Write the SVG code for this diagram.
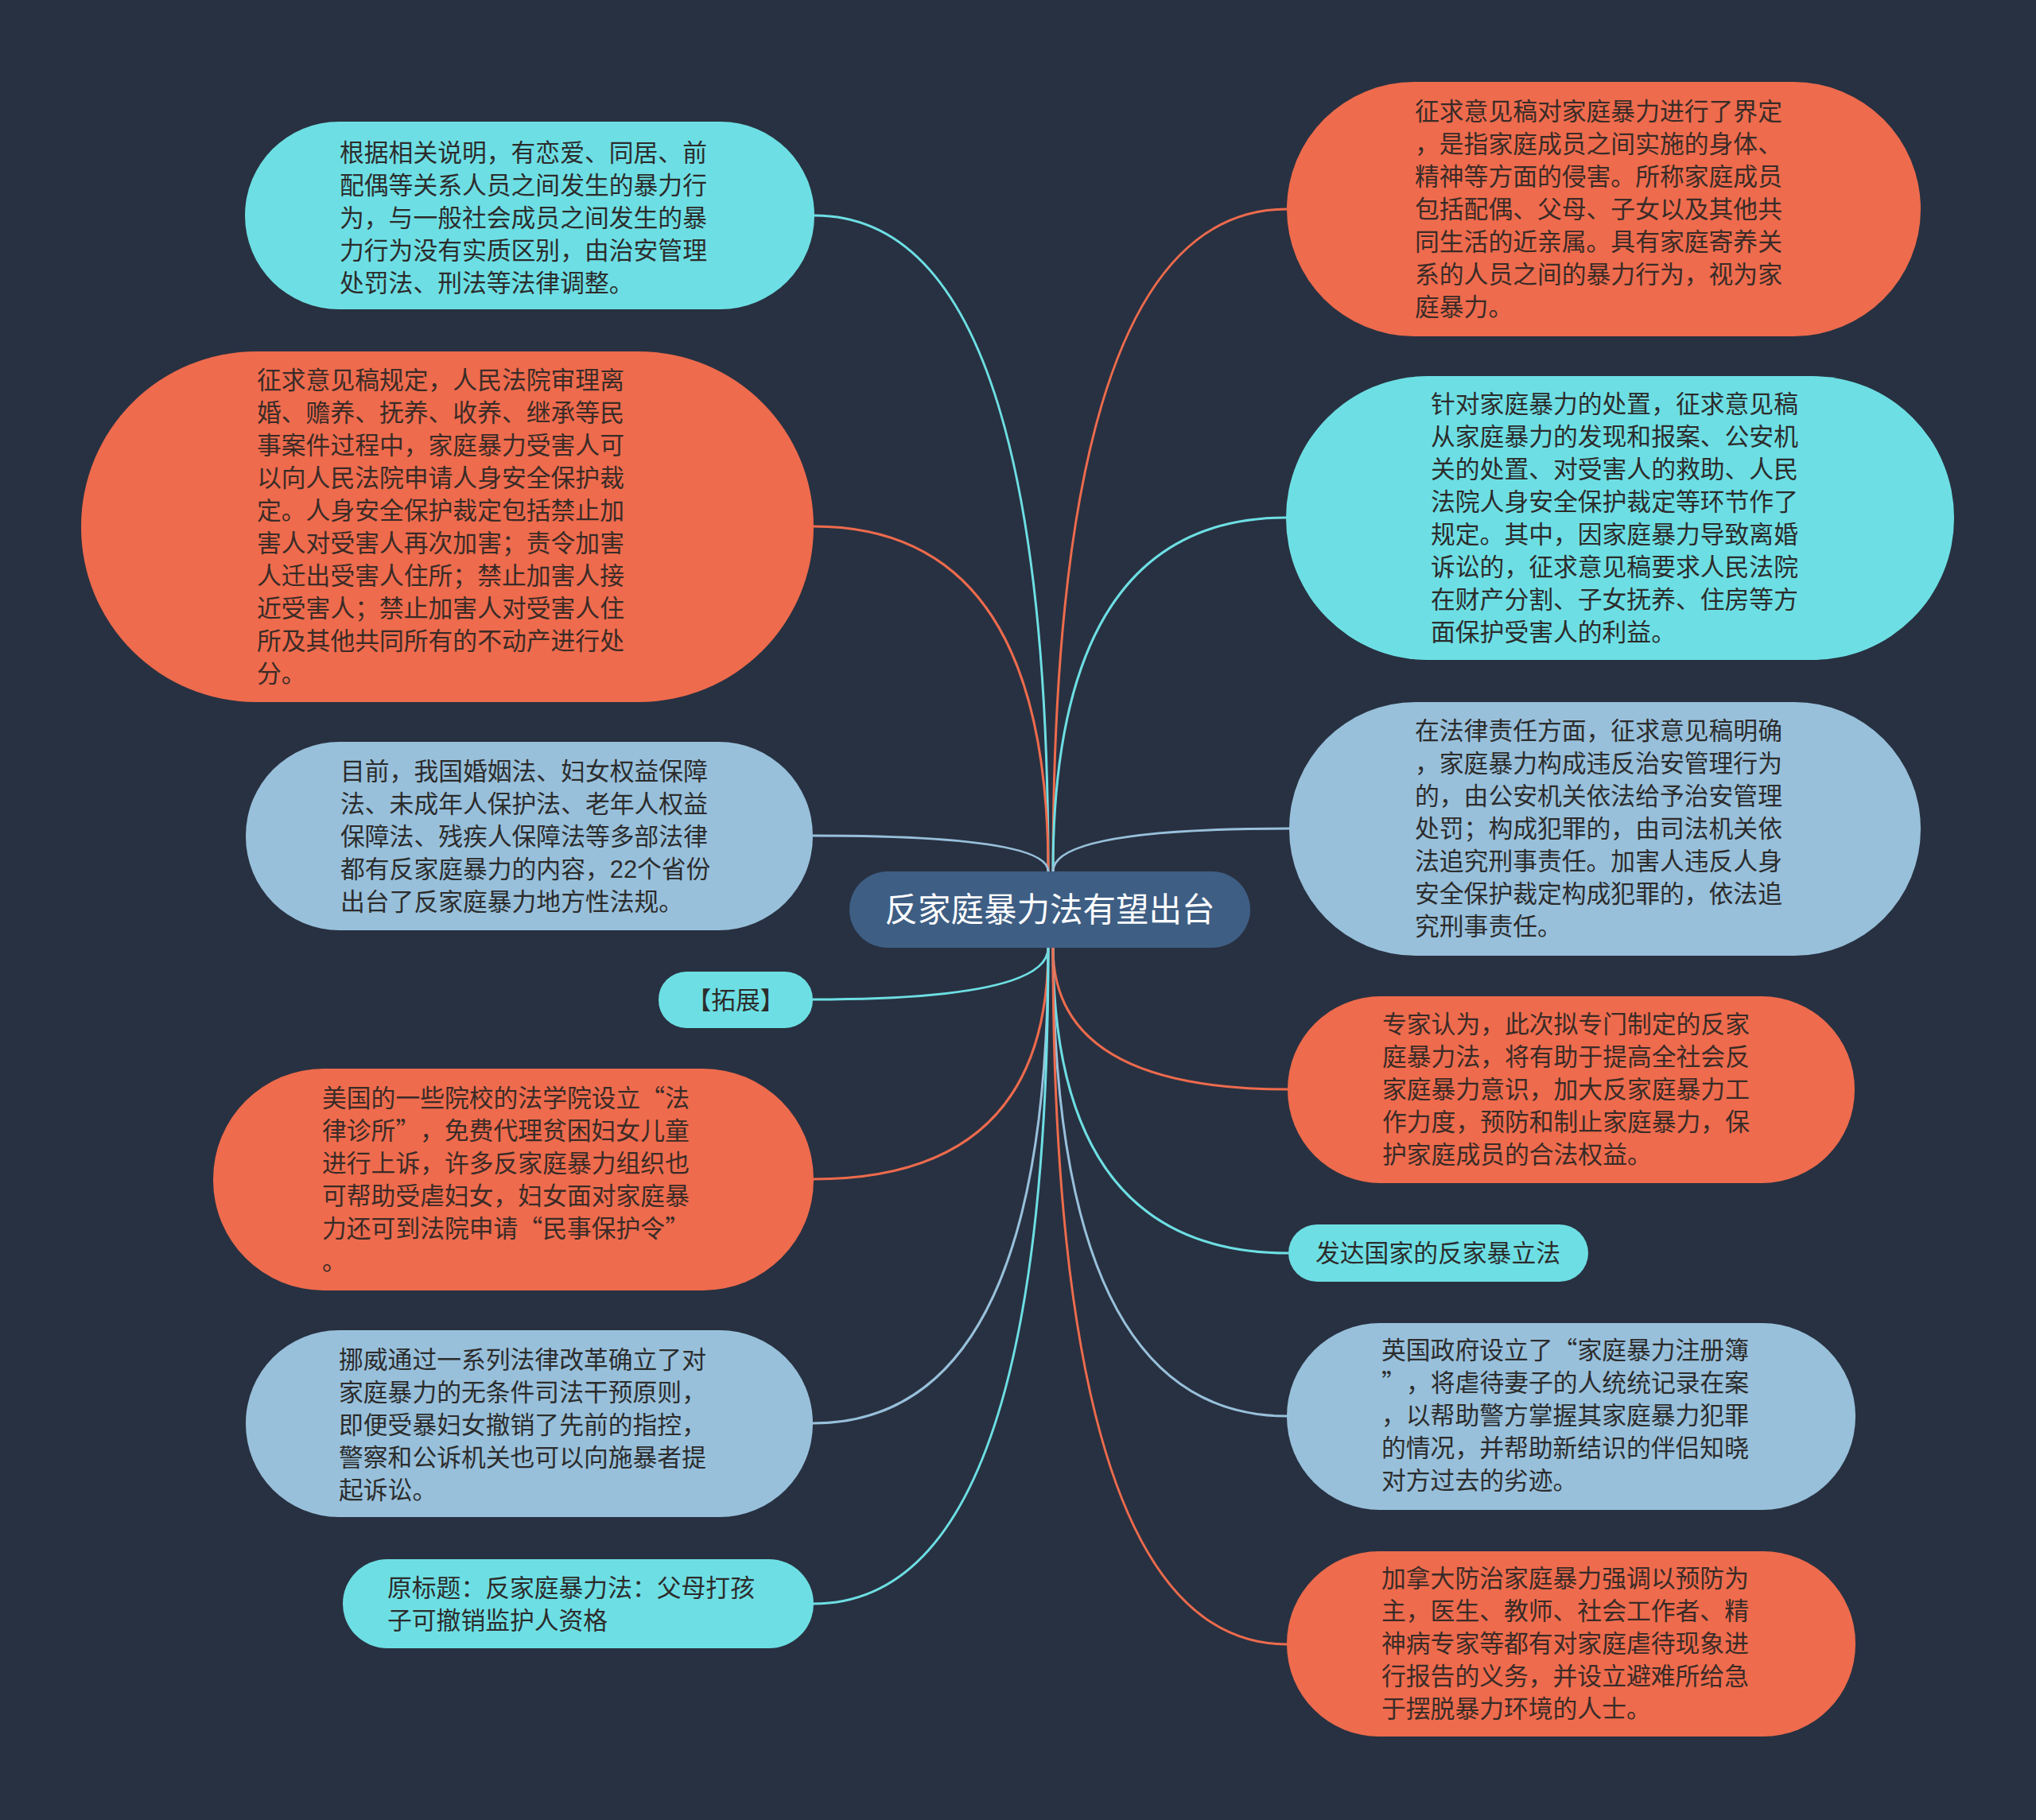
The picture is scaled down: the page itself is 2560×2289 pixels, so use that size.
<svg xmlns="http://www.w3.org/2000/svg" width="2560" height="2289" viewBox="0 0 2560 2289">
<style>
.bg{fill:#283141}
.cy{fill:#6ddfe4}
.or{fill:#ee6b4d}
.lb{fill:#98c0db}
.ctr{fill:#3e5e84}
.t{font-family:"Liberation Sans","Noto Sans CJK SC",sans-serif;font-size:30.8px;fill:#2c2c2c}
.to{fill:#3a2b27}
.q{font-family:"Noto Sans CJK SC",sans-serif}
.tc{font-family:"Liberation Sans","Noto Sans CJK SC",sans-serif;font-size:41.5px;fill:#ffffff}
.c{fill:none;stroke-width:3}
.ccy{stroke:#6ddfe4}
.cor{stroke:#ee6b4d}
.clb{stroke:#98c0db}
</style>
<rect class="bg" x="0" y="0" width="2560" height="2289"/>
<g id="connectors">
<path class="c ccy" d="M1024 271 Q1318 271 1318 1096"/>
<path class="c cor" d="M1023 662 Q1318 662 1318 1096"/>
<path class="c clb" d="M1022 1051 Q1318 1051 1318 1096"/>
<path class="c ccy" d="M1022 1257 Q1318 1257 1318 1192"/>
<path class="c cor" d="M1023 1483 Q1318 1483 1318 1192"/>
<path class="c clb" d="M1022 1790 Q1318 1790 1318 1192"/>
<path class="c ccy" d="M1023 2017 Q1318 2017 1318 1192"/>
<path class="c cor" d="M1618 263 Q1324 263 1324 1096"/>
<path class="c ccy" d="M1617 651 Q1324 651 1324 1096"/>
<path class="c clb" d="M1621 1042 Q1324 1042 1324 1096"/>
<path class="c cor" d="M1619 1370 Q1324 1370 1324 1192"/>
<path class="c ccy" d="M1620 1576 Q1324 1576 1324 1192"/>
<path class="c clb" d="M1618 1781 Q1324 1781 1324 1192"/>
<path class="c cor" d="M1618 2068 Q1324 2068 1324 1192"/>
</g>
<g id="center">
<rect class="ctr" x="1068" y="1096" width="504" height="96" rx="48"/>
<text class="tc" x="1320" y="1159" text-anchor="middle">反家庭暴力法有望出台</text>
</g>
<g id="n1">
<rect class="cy" x="308" y="153" width="716" height="236" rx="118"/>
<text class="t" y="203"><tspan x="427">根据相关说明，有恋爱、同居、前</tspan><tspan x="427" dy="41">配偶等关系人员之间发生的暴力行</tspan><tspan x="427" dy="41">为，与一般社会成员之间发生的暴</tspan><tspan x="427" dy="41">力行为没有实质区别，由治安管理</tspan><tspan x="427" dy="41">处罚法、刑法等法律调整。</tspan></text>
</g>
<g id="n2">
<rect class="or" x="102" y="442" width="921" height="441" rx="220"/>
<text class="t to" y="489"><tspan x="323">征求意见稿规定，人民法院审理离</tspan><tspan x="323" dy="41">婚、赡养、抚养、收养、继承等民</tspan><tspan x="323" dy="41">事案件过程中，家庭暴力受害人可</tspan><tspan x="323" dy="41">以向人民法院申请人身安全保护裁</tspan><tspan x="323" dy="41">定。人身安全保护裁定包括禁止加</tspan><tspan x="323" dy="41">害人对受害人再次加害；责令加害</tspan><tspan x="323" dy="41">人迁出受害人住所；禁止加害人接</tspan><tspan x="323" dy="41">近受害人；禁止加害人对受害人住</tspan><tspan x="323" dy="41">所及其他共同所有的不动产进行处</tspan><tspan x="323" dy="41">分。</tspan></text>
</g>
<g id="n3">
<rect class="lb" x="309" y="933" width="713" height="237" rx="118"/>
<text class="t" y="981"><tspan x="428">目前，我国婚姻法、妇女权益保障</tspan><tspan x="428" dy="41">法、未成年人保护法、老年人权益</tspan><tspan x="428" dy="41">保障法、残疾人保障法等多部法律</tspan><tspan x="428" dy="41">都有反家庭暴力的内容，22个省份</tspan><tspan x="428" dy="41">出台了反家庭暴力地方性法规。</tspan></text>
</g>
<g id="n4">
<rect class="cy" x="828" y="1222" width="194" height="71" rx="35"/>
<text class="t" x="925" y="1269" text-anchor="middle">【拓展】</text>
</g>
<g id="n5">
<rect class="or" x="268" y="1344" width="755" height="279" rx="139"/>
<text class="t to" y="1392"><tspan x="405">美国的一些院校的法学院设立<tspan class="q">“</tspan>法</tspan><tspan x="405" dy="41">律诊所<tspan class="q">”</tspan></tspan><tspan x="528">，免费代理贫困妇女儿童</tspan><tspan x="405" dy="41">进行上诉，许多反家庭暴力组织也</tspan><tspan x="405" dy="41">可帮助受虐妇女，妇女面对家庭暴</tspan><tspan x="405" dy="41">力还可到法院申请<tspan class="q">“</tspan>民事保护令<tspan class="q">”</tspan></tspan><tspan x="405" dy="41">。</tspan></text>
</g>
<g id="n6">
<rect class="lb" x="309" y="1673" width="713" height="235" rx="117"/>
<text class="t" y="1721"><tspan x="426">挪威通过一系列法律改革确立了对</tspan><tspan x="426" dy="41">家庭暴力的无条件司法干预原则，</tspan><tspan x="426" dy="41">即便受暴妇女撤销了先前的指控，</tspan><tspan x="426" dy="41">警察和公诉机关也可以向施暴者提</tspan><tspan x="426" dy="41">起诉讼。</tspan></text>
</g>
<g id="n7">
<rect class="cy" x="431" y="1961" width="592" height="112" rx="56"/>
<text class="t" y="2008"><tspan x="487">原标题：反家庭暴力法：父母打孩</tspan><tspan x="487" dy="41">子可撤销监护人资格</tspan></text>
</g>
<g id="r1">
<rect class="or" x="1618" y="103" width="797" height="320" rx="160"/>
<text class="t to" y="151"><tspan x="1779">征求意见稿对家庭暴力进行了界定</tspan><tspan x="1779" dy="41">，是指家庭成员之间实施的身体、</tspan><tspan x="1779" dy="41">精神等方面的侵害。所称家庭成员</tspan><tspan x="1779" dy="41">包括配偶、父母、子女以及其他共</tspan><tspan x="1779" dy="41">同生活的近亲属。具有家庭寄养关</tspan><tspan x="1779" dy="41">系的人员之间的暴力行为，视为家</tspan><tspan x="1779" dy="41">庭暴力。</tspan></text>
</g>
<g id="r2">
<rect class="cy" x="1617" y="473" width="840" height="357" rx="178"/>
<text class="t" y="519"><tspan x="1799">针对家庭暴力的处置，征求意见稿</tspan><tspan x="1799" dy="41">从家庭暴力的发现和报案、公安机</tspan><tspan x="1799" dy="41">关的处置、对受害人的救助、人民</tspan><tspan x="1799" dy="41">法院人身安全保护裁定等环节作了</tspan><tspan x="1799" dy="41">规定。其中，因家庭暴力导致离婚</tspan><tspan x="1799" dy="41">诉讼的，征求意见稿要求人民法院</tspan><tspan x="1799" dy="41">在财产分割、子女抚养、住房等方</tspan><tspan x="1799" dy="41">面保护受害人的利益。</tspan></text>
</g>
<g id="r3">
<rect class="lb" x="1621" y="883" width="794" height="319" rx="159"/>
<text class="t" y="930"><tspan x="1779">在法律责任方面，征求意见稿明确</tspan><tspan x="1779" dy="41">，家庭暴力构成违反治安管理行为</tspan><tspan x="1779" dy="41">的，由公安机关依法给予治安管理</tspan><tspan x="1779" dy="41">处罚；构成犯罪的，由司法机关依</tspan><tspan x="1779" dy="41">法追究刑事责任。加害人违反人身</tspan><tspan x="1779" dy="41">安全保护裁定构成犯罪的，依法追</tspan><tspan x="1779" dy="41">究刑事责任。</tspan></text>
</g>
<g id="r4">
<rect class="or" x="1619" y="1253" width="713" height="235" rx="117"/>
<text class="t to" y="1299"><tspan x="1738">专家认为，此次拟专门制定的反家</tspan><tspan x="1738" dy="41">庭暴力法，将有助于提高全社会反</tspan><tspan x="1738" dy="41">家庭暴力意识，加大反家庭暴力工</tspan><tspan x="1738" dy="41">作力度，预防和制止家庭暴力，保</tspan><tspan x="1738" dy="41">护家庭成员的合法权益。</tspan></text>
</g>
<g id="r5">
<rect class="cy" x="1620" y="1540" width="377" height="72" rx="36"/>
<text class="t" x="1808" y="1587" text-anchor="middle">发达国家的反家暴立法</text>
</g>
<g id="r6">
<rect class="lb" x="1618" y="1664" width="715" height="235" rx="117"/>
<text class="t" y="1709"><tspan x="1737">英国政府设立了<tspan class="q">“</tspan>家庭暴力注册簿</tspan><tspan x="1737" dy="41"><tspan class="q">”</tspan></tspan><tspan x="1768">，将虐待妻子的人统统记录在案</tspan><tspan x="1737" dy="41">，以帮助警方掌握其家庭暴力犯罪</tspan><tspan x="1737" dy="41">的情况，并帮助新结识的伴侣知晓</tspan><tspan x="1737" dy="41">对方过去的劣迹。</tspan></text>
</g>
<g id="r7">
<rect class="or" x="1618" y="1951" width="715" height="233" rx="116"/>
<text class="t to" y="1996"><tspan x="1737">加拿大防治家庭暴力强调以预防为</tspan><tspan x="1737" dy="41">主，医生、教师、社会工作者、精</tspan><tspan x="1737" dy="41">神病专家等都有对家庭虐待现象进</tspan><tspan x="1737" dy="41">行报告的义务，并设立避难所给急</tspan><tspan x="1737" dy="41">于摆脱暴力环境的人士。</tspan></text>
</g>
</svg>
